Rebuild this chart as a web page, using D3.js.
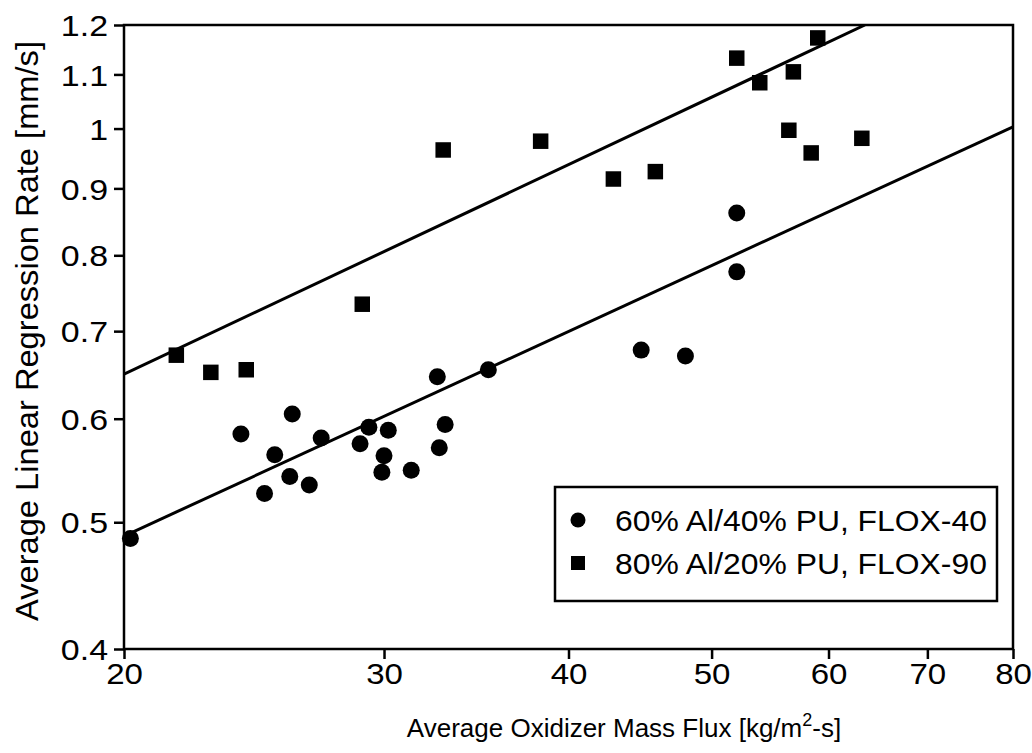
<!DOCTYPE html>
<html>
<head>
<meta charset="utf-8">
<script src="https://cdn.jsdelivr.net/npm/d3@7"></script>
<style>
  body { margin: 0; background: #fff; }
  text { font-family: 'Liberation Sans', Arial, sans-serif; fill: #000; }
</style>
</head>
<body>
<div id="chart"></div>
<script>
// 60% Al / 40% PU, FLOX-40 (circles)
let flox40Flux = [20.2, 24.0, 24.9, 25.3, 25.9, 26.0, 26.7, 27.2, 28.9, 29.3, 29.9, 30.0, 30.2, 31.3, 32.6, 32.7, 33.0, 35.3, 44.8, 48.0, 52.0, 52.0]
let flox40Rate = [0.486, 0.584, 0.526, 0.563, 0.542, 0.605, 0.534, 0.580, 0.574, 0.591, 0.546, 0.562, 0.588, 0.548, 0.646, 0.570, 0.594, 0.654, 0.677, 0.670, 0.777, 0.862]

// 80% Al / 20% PU, FLOX-90 (squares)
let flox90Flux = [21.7, 22.9, 24.2, 29.0, 32.9, 38.3, 42.9, 45.8, 52.0, 53.9, 56.4, 56.8, 58.4, 59.0, 63.2]
let flox90Rate = [0.671, 0.651, 0.654, 0.734, 0.963, 0.978, 0.915, 0.927, 1.132, 1.084, 0.997, 1.105, 0.958, 1.173, 0.983]

// fitted power-law lines, end points
let fit40Flux = [20, 80]
let fit40Rate = [0.488, 1.003]
let fit90Flux = [20, 63.5]
let fit90Rate = [0.649, 1.2]

let xTicks = [20, 30, 40, 50, 60, 70, 80]
let yTicks = [0.4, 0.5, 0.6, 0.7, 0.8, 0.9, 1.0, 1.1, 1.2]

let legendLabels = ['60% Al/40% PU, FLOX-40', '80% Al/20% PU, FLOX-90']

let width = 1032
let height = 753
let margin = { top: 25, right: 19, bottom: 104, left: 124 }
let innerW = width - margin.left - margin.right
let innerH = height - margin.top - margin.bottom

// widen text glyphs a bit, the original uses a broader face than Arial
function stretch(sel, factor) {
  sel.each(function() {
    let w = this.getComputedTextLength()
    d3.select(this)
      .attr('textLength', w * factor)
      .attr('lengthAdjust', 'spacingAndGlyphs')
  })
}

let svg = d3.select('#chart')
  .append('svg')
  .attr('width', width)
  .attr('height', height)

let g = svg.append('g')
  .attr('transform', `translate(${margin.left}, ${margin.top})`)

let x = d3.scaleLog().domain([20, 80]).range([0, innerW])
let y = d3.scaleLog().domain([0.4, 1.2]).range([innerH, 0])

// axes
let xAxis = g.append('g')
  .attr('transform', `translate(0, ${innerH})`)
  .call(d3.axisBottom(x).tickValues(xTicks).tickFormat(d3.format('d')).tickSize(10).tickSizeOuter(0))

let yAxis = g.append('g')
  .call(d3.axisLeft(y).tickValues(yTicks).tickFormat(function(d) { return String(+d.toFixed(1)) }).tickSize(10).tickSizeOuter(0))

xAxis.select('.domain').remove()
yAxis.select('.domain').remove()

xAxis.selectAll('line').attr('stroke', '#000').attr('stroke-width', 2.5)
yAxis.selectAll('line').attr('stroke', '#000').attr('stroke-width', 2.5)

xAxis.selectAll('text')
  .attr('font-size', 29.5)
  .attr('y', 14)
  .attr('dy', '0.71em')
  .attr('font-family', 'Liberation Sans, Arial, sans-serif')
  .call(stretch, 1.12)

yAxis.selectAll('text')
  .attr('font-size', 29.5)
  .attr('x', -16)
  .attr('dy', '0.36em')
  .attr('font-family', 'Liberation Sans, Arial, sans-serif')
  .call(stretch, 1.15)

// frame
g.append('rect')
  .attr('width', innerW)
  .attr('height', innerH)
  .attr('fill', 'none')
  .attr('stroke', '#000')
  .attr('stroke-width', 2.5)

// fit lines
let clip = svg.append('clipPath').attr('id', 'plot-clip')
clip.append('rect').attr('width', innerW).attr('height', innerH)

let line = d3.line()
  .x(function(d) { return x(d[0]) })
  .y(function(d) { return y(d[1]) })

let fits = [d3.zip(fit40Flux, fit40Rate), d3.zip(fit90Flux, fit90Rate)]
g.append('g')
  .attr('clip-path', 'url(#plot-clip)')
  .selectAll('path')
  .data(fits)
  .enter()
  .append('path')
  .attr('d', line)
  .attr('fill', 'none')
  .attr('stroke', '#000')
  .attr('stroke-width', 3)

// points
let circleSym = d3.symbol().type(d3.symbolCircle).size(Math.PI * 8.5 * 8.5)
let squareSym = d3.symbol().type(d3.symbolSquare).size(15.5 * 15.5)

g.append('g')
  .selectAll('path')
  .data(d3.zip(flox40Flux, flox40Rate))
  .enter()
  .append('path')
  .attr('d', circleSym)
  .attr('transform', function(d) { return `translate(${x(d[0])}, ${y(d[1])})` })
  .attr('fill', '#000')

g.append('g')
  .selectAll('path')
  .data(d3.zip(flox90Flux, flox90Rate))
  .enter()
  .append('path')
  .attr('d', squareSym)
  .attr('transform', function(d) { return `translate(${x(d[0])}, ${y(d[1])})` })
  .attr('fill', '#000')

// legend
let legend = svg.append('g')
  .attr('transform', 'translate(555, 487)')

legend.append('rect')
  .attr('width', 442)
  .attr('height', 114)
  .attr('fill', '#fff')
  .attr('stroke', '#000')
  .attr('stroke-width', 2.5)

let items = legend.selectAll('.item')
  .data(legendLabels)
  .enter()
  .append('g')
  .attr('class', 'item')
  .attr('transform', function(d, i) { return `translate(0, ${33 + i * 43})` })

items.append('path')
  .attr('d', function(d, i) { return i === 0 ? d3.symbol().type(d3.symbolCircle).size(Math.PI * 7.5 * 7.5)() : d3.symbol().type(d3.symbolSquare).size(14 * 14)() })
  .attr('transform', 'translate(23, 0)')
  .attr('fill', '#000')

items.append('text')
  .attr('x', 60)
  .attr('dy', '0.36em')
  .attr('font-size', 29.5)
  .text(function(d) { return d })
  .call(stretch, 1.08)

// axis titles
let xTitle = svg.append('text')
  .attr('x', 624)
  .attr('y', 737)
  .attr('text-anchor', 'middle')
  .attr('font-size', 26)
xTitle.append('tspan').text('Average Oxidizer Mass Flux [kg/m')
xTitle.append('tspan').attr('font-size', 18).attr('dy', -11).text('2')
xTitle.append('tspan').attr('dy', 11).text('-s]')

svg.append('text')
  .attr('transform', 'translate(38, 331) rotate(-90)')
  .attr('text-anchor', 'middle')
  .attr('font-size', 31)
  .attr('textLength', 580)
  .attr('lengthAdjust', 'spacingAndGlyphs')
  .text('Average Linear Regression Rate [mm/s]')
</script>
</body>
</html>
